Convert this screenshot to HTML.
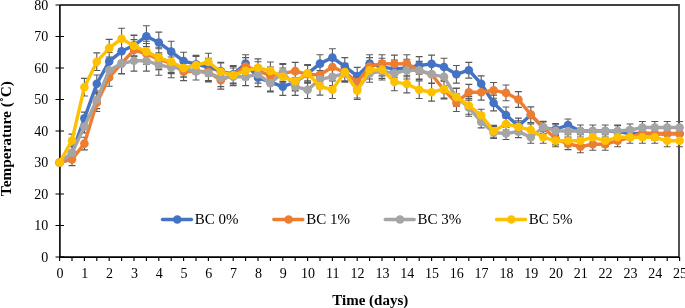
<!DOCTYPE html>
<html><head><meta charset="utf-8"><style>
html,body{margin:0;padding:0;background:#fff;width:685px;height:308px;overflow:hidden}
svg{display:block;will-change:transform}
text{font-family:"Liberation Serif",serif;fill:#000}
.tk{font-size:14px}
.lg{font-size:15px}
.ti{font-size:15px;font-weight:bold}
</style></head><body>
<svg width="685" height="308" viewBox="0 0 685 308">
<path d="M55.5 257.00H64M55.5 225.50H64M55.5 194.00H64M55.5 162.50H64M55.5 131.00H64M55.5 99.50H64M55.5 68.00H64M55.5 36.50H64M55.5 5.00H64M59.60 257V261M72.00 257V261M84.40 257V261M96.80 257V261M109.20 257V261M121.60 257V261M134.00 257V261M146.40 257V261M158.80 257V261M171.20 257V261M183.60 257V261M196.00 257V261M208.40 257V261M220.80 257V261M233.20 257V261M245.60 257V261M258.00 257V261M270.40 257V261M282.80 257V261M295.20 257V261M307.60 257V261M320.00 257V261M332.40 257V261M344.80 257V261M357.20 257V261M369.60 257V261M382.00 257V261M394.40 257V261M406.80 257V261M419.20 257V261M431.60 257V261M444.00 257V261M456.40 257V261M468.80 257V261M481.20 257V261M493.60 257V261M506.00 257V261M518.40 257V261M530.80 257V261M543.20 257V261M555.60 257V261M568.00 257V261M580.40 257V261M592.80 257V261M605.20 257V261M617.60 257V261M630.00 257V261M642.40 257V261M654.80 257V261M667.20 257V261M679.60 257V261" stroke="#000" stroke-width="1.15" fill="none"/>
<path d="M60 5 H679 V257" fill="none" stroke="#404040" stroke-width="1.8"/>
<path d="M59.9 5 V257.1 H679" fill="none" stroke="#000" stroke-width="1.6"/>
<path d="M72.00 146.75V159.35M68.55 146.75H75.45M68.55 159.35H75.45M84.40 112.10V124.70M80.95 112.10H87.85M80.95 124.70H87.85M96.80 74.93V92.57M93.35 74.93H100.25M93.35 92.57H100.25M109.20 52.56V70.20M105.75 52.56H112.65M105.75 70.20H112.65M121.60 40.91V61.70M118.15 40.91H125.05M118.15 61.70H125.05M134.00 34.93V55.71M130.55 34.93H137.45M130.55 55.71H137.45M146.40 25.79V46.58M142.95 25.79H149.85M142.95 46.58H149.85M158.80 32.09V52.88M155.35 32.09H162.25M155.35 52.88H162.25M171.20 41.22V62.01M167.75 41.22H174.65M167.75 62.01H174.65M183.60 52.25V69.89M180.15 52.25H187.05M180.15 69.89H187.05M196.00 55.40V73.04M192.55 55.40H199.45M192.55 73.04H199.45M208.40 58.24V75.88M204.95 58.24H211.85M204.95 75.88H211.85M220.80 62.33V79.97M217.35 62.33H224.25M217.35 79.97H224.25M233.20 65.48V83.12M229.75 65.48H236.65M229.75 83.12H236.65M245.60 54.77V72.41M242.15 54.77H249.05M242.15 72.41H249.05M258.00 68.95V86.59M254.55 68.95H261.45M254.55 86.59H261.45M270.40 73.36V91.00M266.95 73.36H273.85M266.95 91.00H273.85M282.80 77.77V95.41M279.35 77.77H286.25M279.35 95.41H286.25M295.20 73.36V91.00M291.75 73.36H298.65M291.75 91.00H298.65M307.60 64.85V82.49M304.15 64.85H311.05M304.15 82.49H311.05M320.00 54.77V72.41M316.55 54.77H323.45M316.55 72.41H323.45M332.40 48.79V66.43M328.95 48.79H335.85M328.95 66.43H335.85M344.80 57.61V75.25M341.35 57.61H348.25M341.35 75.25H348.25M357.20 67.37V85.01M353.75 67.37H360.65M353.75 85.01H360.65M369.60 54.77V72.41M366.15 54.77H373.05M366.15 72.41H373.05M382.00 58.24V75.88M378.55 58.24H385.45M378.55 75.88H385.45M394.40 60.12V77.76M390.95 60.12H397.85M390.95 77.76H397.85M406.80 59.18V76.82M403.35 59.18H410.25M403.35 76.82H410.25M419.20 56.66V74.30M415.75 56.66H422.65M415.75 74.30H422.65M431.60 55.09V72.72M428.15 55.09H435.05M428.15 72.72H435.05M444.00 58.24V75.88M440.55 58.24H447.45M440.55 75.88H447.45M456.40 65.48V83.12M452.95 65.48H459.85M452.95 83.12H459.85M468.80 62.33V78.08M465.35 62.33H472.25M465.35 78.08H472.25M481.20 75.88V91.62M477.75 75.88H484.65M477.75 91.62H484.65M493.60 95.09V110.84M490.15 95.09H497.05M490.15 110.84H497.05M506.00 107.06V122.81M502.55 107.06H509.45M502.55 122.81H509.45M518.40 118.09V133.83M514.95 118.09H521.85M514.95 133.83H521.85M530.80 107.06V122.81M527.35 107.06H534.25M527.35 122.81H534.25M543.20 121.87V133.83M539.75 121.87H546.65M539.75 133.83H546.65M555.60 123.44V135.41M552.15 123.44H559.05M552.15 135.41H559.05M568.00 119.03V131.00M564.55 119.03H571.45M564.55 131.00H571.45M580.40 125.02V136.99M576.95 125.02H583.85M576.95 136.99H583.85M592.80 125.02V136.99M589.35 125.02H596.25M589.35 136.99H596.25M605.20 125.02V136.99M601.75 125.02H608.65M601.75 136.99H608.65M617.60 125.65V137.62M614.15 125.65H621.05M614.15 137.62H621.05M630.00 127.53V139.50M626.55 127.53H633.45M626.55 139.50H633.45M642.40 127.53V139.50M638.95 127.53H645.85M638.95 139.50H645.85M654.80 128.17V140.13M651.35 128.17H658.25M651.35 140.13H658.25M667.20 127.85V139.82M663.75 127.85H670.65M663.75 139.82H670.65M679.60 127.85V139.82M676.15 127.85H683.05M676.15 139.82H683.05M72.00 153.05V165.65M68.55 153.05H75.45M68.55 165.65H75.45M84.40 137.30V149.90M80.95 137.30H87.85M80.95 149.90H87.85M96.80 93.83V111.47M93.35 93.83H100.25M93.35 111.47H100.25M109.20 68.63V86.27M105.75 68.63H112.65M105.75 86.27H112.65M121.60 52.88V73.67M118.15 52.88H125.05M118.15 73.67H125.05M134.00 39.65V60.44M130.55 39.65H137.45M130.55 60.44H137.45M146.40 43.43V64.22M142.95 43.43H149.85M142.95 64.22H149.85M158.80 48.79V69.58M155.35 48.79H162.25M155.35 69.58H162.25M171.20 52.88V73.67M167.75 52.88H174.65M167.75 73.67H174.65M183.60 62.96V80.60M180.15 62.96H187.05M180.15 80.60H187.05M196.00 62.33V79.97M192.55 62.33H199.45M192.55 79.97H199.45M208.40 62.96V80.60M204.95 62.96H211.85M204.95 80.60H211.85M220.80 71.47V89.10M217.35 71.47H224.25M217.35 89.10H224.25M233.20 66.11V83.75M229.75 66.11H236.65M229.75 83.75H236.65M245.60 57.61V75.25M242.15 57.61H249.05M242.15 75.25H249.05M258.00 61.70V79.34M254.55 61.70H261.45M254.55 79.34H261.45M270.40 67.06V84.69M266.95 67.06H273.85M266.95 84.69H273.85M282.80 64.54V82.18M279.35 64.54H286.25M279.35 82.18H286.25M295.20 62.33V79.97M291.75 62.33H298.65M291.75 79.97H298.65M307.60 65.48V83.12M304.15 65.48H311.05M304.15 83.12H311.05M320.00 66.11V83.75M316.55 66.11H323.45M316.55 83.75H323.45M332.40 58.24V75.88M328.95 58.24H335.85M328.95 75.88H335.85M344.80 63.59V81.23M341.35 63.59H348.25M341.35 81.23H348.25M357.20 73.36V91.00M353.75 73.36H360.65M353.75 91.00H360.65M369.60 57.61V75.25M366.15 57.61H373.05M366.15 75.25H373.05M382.00 54.77V72.41M378.55 54.77H385.45M378.55 72.41H385.45M394.40 55.09V72.72M390.95 55.09H397.85M390.95 72.72H397.85M406.80 54.77V72.41M403.35 54.77H410.25M403.35 72.41H410.25M419.20 61.70V79.34M415.75 61.70H422.65M415.75 79.34H422.65M431.60 65.48V83.12M428.15 65.48H435.05M428.15 83.12H435.05M444.00 81.23V98.87M440.55 81.23H447.45M440.55 98.87H447.45M456.40 93.83V111.47M452.95 93.83H459.85M452.95 111.47H459.85M468.80 84.38V100.13M465.35 84.38H472.25M465.35 100.13H472.25M481.20 84.38V100.13M477.75 84.38H484.65M477.75 100.13H484.65M493.60 82.49V98.24M490.15 82.49H497.05M490.15 98.24H497.05M506.00 85.01V100.76M502.55 85.01H509.45M502.55 100.76H509.45M518.40 91.62V107.38M514.95 91.62H521.85M514.95 107.38H521.85M530.80 106.75V122.50M527.35 106.75H534.25M527.35 122.50H534.25M543.20 121.23V133.20M539.75 121.23H546.65M539.75 133.20H546.65M555.60 132.89V144.86M552.15 132.89H559.05M552.15 144.86H559.05M568.00 137.62V149.58M564.55 137.62H571.45M564.55 149.58H571.45M580.40 140.77V152.74M576.95 140.77H583.85M576.95 152.74H583.85M592.80 138.25V150.22M589.35 138.25H596.25M589.35 150.22H596.25M605.20 138.25V150.22M601.75 138.25H608.65M601.75 150.22H608.65M617.60 134.78V146.75M614.15 134.78H621.05M614.15 146.75H621.05M630.00 131.31V143.28M626.55 131.31H633.45M626.55 143.28H633.45M642.40 126.91V138.88M638.95 126.91H645.85M638.95 138.88H645.85M654.80 127.53V139.50M651.35 127.53H658.25M651.35 139.50H658.25M667.20 127.53V139.50M663.75 127.53H670.65M663.75 139.50H670.65M679.60 127.53V139.50M676.15 127.53H683.05M676.15 139.50H683.05M72.00 146.75V159.35M68.55 146.75H75.45M68.55 159.35H75.45M84.40 120.29V132.89M80.95 120.29H87.85M80.95 132.89H87.85M96.80 91.00V108.63M93.35 91.00H100.25M93.35 108.63H100.25M109.20 61.39V79.03M105.75 61.39H112.65M105.75 79.03H112.65M121.60 53.19V73.99M118.15 53.19H125.05M118.15 73.99H125.05M134.00 50.36V71.15M130.55 50.36H137.45M130.55 71.15H137.45M146.40 50.36V71.15M142.95 50.36H149.85M142.95 71.15H149.85M158.80 54.46V75.25M155.35 54.46H162.25M155.35 75.25H162.25M171.20 56.97V77.76M167.75 56.97H174.65M167.75 77.76H174.65M183.60 59.50V77.13M180.15 59.50H187.05M180.15 77.13H187.05M196.00 62.33V79.97M192.55 62.33H199.45M192.55 79.97H199.45M208.40 64.22V81.86M204.95 64.22H211.85M204.95 81.86H211.85M220.80 68.95V86.59M217.35 68.95H224.25M217.35 86.59H224.25M233.20 68.00V85.64M229.75 68.00H236.65M229.75 85.64H236.65M245.60 68.00V85.64M242.15 68.00H249.05M242.15 85.64H249.05M258.00 65.48V83.12M254.55 65.48H261.45M254.55 83.12H261.45M270.40 74.30V91.94M266.95 74.30H273.85M266.95 91.94H273.85M282.80 63.59V81.23M279.35 63.59H286.25M279.35 81.23H286.25M295.20 77.77V95.41M291.75 77.77H298.65M291.75 95.41H298.65M307.60 80.92V98.55M304.15 80.92H311.05M304.15 98.55H311.05M320.00 70.52V88.16M316.55 70.52H323.45M316.55 88.16H323.45M332.40 68.00V85.64M328.95 68.00H335.85M328.95 85.64H335.85M344.80 64.54V82.18M341.35 64.54H348.25M341.35 82.18H348.25M357.20 80.29V97.93M353.75 80.29H360.65M353.75 97.93H360.65M369.60 64.54V82.18M366.15 64.54H373.05M366.15 82.18H373.05M382.00 62.33V79.97M378.55 62.33H385.45M378.55 79.97H385.45M394.40 64.54V82.18M390.95 64.54H397.85M390.95 82.18H397.85M406.80 61.39V79.03M403.35 61.39H410.25M403.35 79.03H410.25M419.20 61.39V79.03M415.75 61.39H422.65M415.75 79.03H422.65M431.60 65.48V83.12M428.15 65.48H435.05M428.15 83.12H435.05M444.00 68.00V85.64M440.55 68.00H447.45M440.55 85.64H447.45M456.40 88.47V106.11M452.95 88.47H459.85M452.95 106.11H459.85M468.80 98.56V116.19M465.35 98.56H472.25M465.35 116.19H472.25M481.20 115.88V127.85M477.75 115.88H484.65M477.75 127.85H484.65M493.60 126.59V138.56M490.15 126.59H497.05M490.15 138.56H497.05M506.00 127.53V139.50M502.55 127.53H509.45M502.55 139.50H509.45M518.40 125.65V137.62M514.95 125.65H521.85M514.95 137.62H521.85M530.80 131.31V143.28M527.35 131.31H534.25M527.35 143.28H534.25M543.20 121.23V133.20M539.75 121.23H546.65M539.75 133.20H546.65M555.60 124.70V136.67M552.15 124.70H559.05M552.15 136.67H559.05M568.00 125.02V136.99M564.55 125.02H571.45M564.55 136.99H571.45M580.40 125.02V136.99M576.95 125.02H583.85M576.95 136.99H583.85M592.80 125.02V136.99M589.35 125.02H596.25M589.35 136.99H596.25M605.20 125.02V136.99M601.75 125.02H608.65M601.75 136.99H608.65M617.60 125.02V136.99M614.15 125.02H621.05M614.15 136.99H621.05M630.00 124.07V136.04M626.55 124.07H633.45M626.55 136.04H633.45M642.40 121.55V133.52M638.95 121.55H645.85M638.95 133.52H645.85M654.80 121.55V133.52M651.35 121.55H658.25M651.35 133.52H658.25M667.20 121.55V133.52M663.75 121.55H670.65M663.75 133.52H670.65M679.60 121.55V133.52M676.15 121.55H683.05M676.15 133.52H683.05M72.00 134.15V146.75M68.55 134.15H75.45M68.55 146.75H75.45M84.40 78.40V96.03M80.95 78.40H87.85M80.95 96.03H87.85M96.80 52.88V70.52M93.35 52.88H100.25M93.35 70.52H100.25M109.20 39.34V56.97M105.75 39.34H112.65M105.75 56.97H112.65M121.60 28.31V49.10M118.15 28.31H125.05M118.15 49.10H125.05M134.00 35.56V56.34M130.55 35.56H137.45M130.55 56.34H137.45M146.40 41.22V62.01M142.95 41.22H149.85M142.95 62.01H149.85M158.80 47.21V68.00M155.35 47.21H162.25M155.35 68.00H162.25M171.20 51.62V72.41M167.75 51.62H174.65M167.75 72.41H174.65M183.60 59.18V76.82M180.15 59.18H187.05M180.15 76.82H187.05M196.00 56.35V73.99M192.55 56.35H199.45M192.55 73.99H199.45M208.40 53.19V70.84M204.95 53.19H211.85M204.95 70.84H211.85M220.80 62.96V80.60M217.35 62.96H224.25M217.35 80.60H224.25M233.20 66.43V84.06M229.75 66.43H236.65M229.75 84.06H236.65M245.60 62.02V79.66M242.15 62.02H249.05M242.15 79.66H249.05M258.00 58.87V76.50M254.55 58.87H261.45M254.55 76.50H261.45M270.40 62.02V79.66M266.95 62.02H273.85M266.95 79.66H273.85M282.80 68.00V85.64M279.35 68.00H286.25M279.35 85.64H286.25M295.20 72.41V90.05M291.75 72.41H298.65M291.75 90.05H298.65M307.60 64.54V82.18M304.15 64.54H311.05M304.15 82.18H311.05M320.00 77.45V95.09M316.55 77.45H323.45M316.55 95.09H323.45M332.40 80.92V98.55M328.95 80.92H335.85M328.95 98.55H335.85M344.80 63.28V80.91M341.35 63.28H348.25M341.35 80.91H348.25M357.20 81.86V99.50M353.75 81.86H360.65M353.75 99.50H360.65M369.60 61.39V79.03M366.15 61.39H373.05M366.15 79.03H373.05M382.00 60.76V78.40M378.55 60.76H385.45M378.55 78.40H385.45M394.40 73.04V90.68M390.95 73.04H397.85M390.95 90.68H397.85M406.80 75.25V92.88M403.35 75.25H410.25M403.35 92.88H410.25M419.20 80.92V98.55M415.75 80.92H422.65M415.75 98.55H422.65M431.60 83.44V101.08M428.15 83.44H435.05M428.15 101.08H435.05M444.00 80.29V97.93M440.55 80.29H447.45M440.55 97.93H447.45M456.40 88.16V105.80M452.95 88.16H459.85M452.95 105.80H459.85M468.80 96.67V114.30M465.35 96.67H472.25M465.35 114.30H472.25M481.20 109.27V121.23M477.75 109.27H484.65M477.75 121.23H484.65M493.60 125.33V137.30M490.15 125.33H497.05M490.15 137.30H497.05M506.00 118.09V130.06M502.55 118.09H509.45M502.55 130.06H509.45M518.40 120.92V132.89M514.95 120.92H521.85M514.95 132.89H521.85M530.80 124.07V136.04M527.35 124.07H534.25M527.35 136.04H534.25M543.20 131.31V143.28M539.75 131.31H546.65M539.75 143.28H546.65M555.60 134.78V146.75M552.15 134.78H559.05M552.15 146.75H559.05M568.00 134.78V146.75M564.55 134.78H571.45M564.55 146.75H571.45M580.40 134.78V146.75M576.95 134.78H583.85M576.95 146.75H583.85M592.80 131.31V143.28M589.35 131.31H596.25M589.35 143.28H596.25M605.20 134.78V146.75M601.75 134.78H608.65M601.75 146.75H608.65M617.60 131.31V143.28M614.15 131.31H621.05M614.15 143.28H621.05M630.00 131.31V143.28M626.55 131.31H633.45M626.55 143.28H633.45M642.40 131.31V143.28M638.95 131.31H645.85M638.95 143.28H645.85M654.80 131.31V143.28M651.35 131.31H658.25M651.35 143.28H658.25M667.20 134.78V146.75M663.75 134.78H670.65M663.75 146.75H670.65M679.60 134.78V146.75M676.15 134.78H683.05M676.15 146.75H683.05" stroke="#595959" stroke-width="1.1" fill="none"/>
<polyline points="59.60,162.50 72.00,153.05 84.40,118.40 96.80,83.75 109.20,61.38 121.60,51.31 134.00,45.32 146.40,36.19 158.80,42.49 171.20,51.62 183.60,61.07 196.00,64.22 208.40,67.06 220.80,71.15 233.20,74.30 245.60,63.59 258.00,77.77 270.40,82.18 282.80,86.59 295.20,82.18 307.60,73.67 320.00,63.59 332.40,57.61 344.80,66.43 357.20,76.19 369.60,63.59 382.00,67.06 394.40,68.94 406.80,68.00 419.20,65.48 431.60,63.91 444.00,67.06 456.40,74.30 468.80,70.21 481.20,83.75 493.60,102.97 506.00,114.94 518.40,125.96 530.80,114.94 543.20,127.85 555.60,129.43 568.00,125.02 580.40,131.00 592.80,131.00 605.20,131.00 617.60,131.63 630.00,133.52 642.40,133.52 654.80,134.15 667.20,133.83 679.60,133.83" fill="none" stroke="#4472C4" stroke-width="3.4" stroke-linejoin="round" stroke-linecap="round"/>
<g fill="#4472C4"><circle cx="59.60" cy="162.50" r="4.3"/><circle cx="72.00" cy="153.05" r="4.3"/><circle cx="84.40" cy="118.40" r="4.3"/><circle cx="96.80" cy="83.75" r="4.3"/><circle cx="109.20" cy="61.38" r="4.3"/><circle cx="121.60" cy="51.31" r="4.3"/><circle cx="134.00" cy="45.32" r="4.3"/><circle cx="146.40" cy="36.19" r="4.3"/><circle cx="158.80" cy="42.49" r="4.3"/><circle cx="171.20" cy="51.62" r="4.3"/><circle cx="183.60" cy="61.07" r="4.3"/><circle cx="196.00" cy="64.22" r="4.3"/><circle cx="208.40" cy="67.06" r="4.3"/><circle cx="220.80" cy="71.15" r="4.3"/><circle cx="233.20" cy="74.30" r="4.3"/><circle cx="245.60" cy="63.59" r="4.3"/><circle cx="258.00" cy="77.77" r="4.3"/><circle cx="270.40" cy="82.18" r="4.3"/><circle cx="282.80" cy="86.59" r="4.3"/><circle cx="295.20" cy="82.18" r="4.3"/><circle cx="307.60" cy="73.67" r="4.3"/><circle cx="320.00" cy="63.59" r="4.3"/><circle cx="332.40" cy="57.61" r="4.3"/><circle cx="344.80" cy="66.43" r="4.3"/><circle cx="357.20" cy="76.19" r="4.3"/><circle cx="369.60" cy="63.59" r="4.3"/><circle cx="382.00" cy="67.06" r="4.3"/><circle cx="394.40" cy="68.94" r="4.3"/><circle cx="406.80" cy="68.00" r="4.3"/><circle cx="419.20" cy="65.48" r="4.3"/><circle cx="431.60" cy="63.91" r="4.3"/><circle cx="444.00" cy="67.06" r="4.3"/><circle cx="456.40" cy="74.30" r="4.3"/><circle cx="468.80" cy="70.21" r="4.3"/><circle cx="481.20" cy="83.75" r="4.3"/><circle cx="493.60" cy="102.97" r="4.3"/><circle cx="506.00" cy="114.94" r="4.3"/><circle cx="518.40" cy="125.96" r="4.3"/><circle cx="530.80" cy="114.94" r="4.3"/><circle cx="543.20" cy="127.85" r="4.3"/><circle cx="555.60" cy="129.43" r="4.3"/><circle cx="568.00" cy="125.02" r="4.3"/><circle cx="580.40" cy="131.00" r="4.3"/><circle cx="592.80" cy="131.00" r="4.3"/><circle cx="605.20" cy="131.00" r="4.3"/><circle cx="617.60" cy="131.63" r="4.3"/><circle cx="630.00" cy="133.52" r="4.3"/><circle cx="642.40" cy="133.52" r="4.3"/><circle cx="654.80" cy="134.15" r="4.3"/><circle cx="667.20" cy="133.83" r="4.3"/><circle cx="679.60" cy="133.83" r="4.3"/></g>
<polyline points="59.60,162.50 72.00,159.35 84.40,143.60 96.80,102.65 109.20,77.45 121.60,63.28 134.00,50.04 146.40,53.83 158.80,59.18 171.20,63.28 183.60,71.78 196.00,71.15 208.40,71.78 220.80,80.28 233.20,74.93 245.60,66.43 258.00,70.52 270.40,75.88 282.80,73.36 295.20,71.15 307.60,74.30 320.00,74.93 332.40,67.06 344.80,72.41 357.20,82.18 369.60,66.43 382.00,63.59 394.40,63.91 406.80,63.59 419.20,70.52 431.60,74.30 444.00,90.05 456.40,102.65 468.80,92.26 481.20,92.26 493.60,90.37 506.00,92.88 518.40,99.50 530.80,114.62 543.20,127.22 555.60,138.88 568.00,143.60 580.40,146.75 592.80,144.23 605.20,144.23 617.60,140.77 630.00,137.30 642.40,132.89 654.80,133.52 667.20,133.52 679.60,133.52" fill="none" stroke="#ED7D31" stroke-width="3.4" stroke-linejoin="round" stroke-linecap="round"/>
<g fill="#ED7D31"><circle cx="59.60" cy="162.50" r="4.3"/><circle cx="72.00" cy="159.35" r="4.3"/><circle cx="84.40" cy="143.60" r="4.3"/><circle cx="96.80" cy="102.65" r="4.3"/><circle cx="109.20" cy="77.45" r="4.3"/><circle cx="121.60" cy="63.28" r="4.3"/><circle cx="134.00" cy="50.04" r="4.3"/><circle cx="146.40" cy="53.83" r="4.3"/><circle cx="158.80" cy="59.18" r="4.3"/><circle cx="171.20" cy="63.28" r="4.3"/><circle cx="183.60" cy="71.78" r="4.3"/><circle cx="196.00" cy="71.15" r="4.3"/><circle cx="208.40" cy="71.78" r="4.3"/><circle cx="220.80" cy="80.28" r="4.3"/><circle cx="233.20" cy="74.93" r="4.3"/><circle cx="245.60" cy="66.43" r="4.3"/><circle cx="258.00" cy="70.52" r="4.3"/><circle cx="270.40" cy="75.88" r="4.3"/><circle cx="282.80" cy="73.36" r="4.3"/><circle cx="295.20" cy="71.15" r="4.3"/><circle cx="307.60" cy="74.30" r="4.3"/><circle cx="320.00" cy="74.93" r="4.3"/><circle cx="332.40" cy="67.06" r="4.3"/><circle cx="344.80" cy="72.41" r="4.3"/><circle cx="357.20" cy="82.18" r="4.3"/><circle cx="369.60" cy="66.43" r="4.3"/><circle cx="382.00" cy="63.59" r="4.3"/><circle cx="394.40" cy="63.91" r="4.3"/><circle cx="406.80" cy="63.59" r="4.3"/><circle cx="419.20" cy="70.52" r="4.3"/><circle cx="431.60" cy="74.30" r="4.3"/><circle cx="444.00" cy="90.05" r="4.3"/><circle cx="456.40" cy="102.65" r="4.3"/><circle cx="468.80" cy="92.26" r="4.3"/><circle cx="481.20" cy="92.26" r="4.3"/><circle cx="493.60" cy="90.37" r="4.3"/><circle cx="506.00" cy="92.88" r="4.3"/><circle cx="518.40" cy="99.50" r="4.3"/><circle cx="530.80" cy="114.62" r="4.3"/><circle cx="543.20" cy="127.22" r="4.3"/><circle cx="555.60" cy="138.88" r="4.3"/><circle cx="568.00" cy="143.60" r="4.3"/><circle cx="580.40" cy="146.75" r="4.3"/><circle cx="592.80" cy="144.23" r="4.3"/><circle cx="605.20" cy="144.23" r="4.3"/><circle cx="617.60" cy="140.77" r="4.3"/><circle cx="630.00" cy="137.30" r="4.3"/><circle cx="642.40" cy="132.89" r="4.3"/><circle cx="654.80" cy="133.52" r="4.3"/><circle cx="667.20" cy="133.52" r="4.3"/><circle cx="679.60" cy="133.52" r="4.3"/></g>
<polyline points="59.60,162.50 72.00,153.05 84.40,126.59 96.80,99.81 109.20,70.21 121.60,63.59 134.00,60.76 146.40,60.76 158.80,64.85 171.20,67.37 183.60,68.31 196.00,71.15 208.40,73.04 220.80,77.77 233.20,76.82 245.60,76.82 258.00,74.30 270.40,83.12 282.80,72.41 295.20,86.59 307.60,89.74 320.00,79.34 332.40,76.82 344.80,73.36 357.20,89.11 369.60,73.36 382.00,71.15 394.40,73.36 406.80,70.21 419.20,70.21 431.60,74.30 444.00,76.82 456.40,97.29 468.80,107.38 481.20,121.87 493.60,132.57 506.00,133.52 518.40,131.63 530.80,137.30 543.20,127.22 555.60,130.69 568.00,131.00 580.40,131.00 592.80,131.00 605.20,131.00 617.60,131.00 630.00,130.06 642.40,127.53 654.80,127.53 667.20,127.53 679.60,127.53" fill="none" stroke="#A5A5A5" stroke-width="3.4" stroke-linejoin="round" stroke-linecap="round"/>
<g fill="#A5A5A5"><circle cx="59.60" cy="162.50" r="4.3"/><circle cx="72.00" cy="153.05" r="4.3"/><circle cx="84.40" cy="126.59" r="4.3"/><circle cx="96.80" cy="99.81" r="4.3"/><circle cx="109.20" cy="70.21" r="4.3"/><circle cx="121.60" cy="63.59" r="4.3"/><circle cx="134.00" cy="60.76" r="4.3"/><circle cx="146.40" cy="60.76" r="4.3"/><circle cx="158.80" cy="64.85" r="4.3"/><circle cx="171.20" cy="67.37" r="4.3"/><circle cx="183.60" cy="68.31" r="4.3"/><circle cx="196.00" cy="71.15" r="4.3"/><circle cx="208.40" cy="73.04" r="4.3"/><circle cx="220.80" cy="77.77" r="4.3"/><circle cx="233.20" cy="76.82" r="4.3"/><circle cx="245.60" cy="76.82" r="4.3"/><circle cx="258.00" cy="74.30" r="4.3"/><circle cx="270.40" cy="83.12" r="4.3"/><circle cx="282.80" cy="72.41" r="4.3"/><circle cx="295.20" cy="86.59" r="4.3"/><circle cx="307.60" cy="89.74" r="4.3"/><circle cx="320.00" cy="79.34" r="4.3"/><circle cx="332.40" cy="76.82" r="4.3"/><circle cx="344.80" cy="73.36" r="4.3"/><circle cx="357.20" cy="89.11" r="4.3"/><circle cx="369.60" cy="73.36" r="4.3"/><circle cx="382.00" cy="71.15" r="4.3"/><circle cx="394.40" cy="73.36" r="4.3"/><circle cx="406.80" cy="70.21" r="4.3"/><circle cx="419.20" cy="70.21" r="4.3"/><circle cx="431.60" cy="74.30" r="4.3"/><circle cx="444.00" cy="76.82" r="4.3"/><circle cx="456.40" cy="97.29" r="4.3"/><circle cx="468.80" cy="107.38" r="4.3"/><circle cx="481.20" cy="121.87" r="4.3"/><circle cx="493.60" cy="132.57" r="4.3"/><circle cx="506.00" cy="133.52" r="4.3"/><circle cx="518.40" cy="131.63" r="4.3"/><circle cx="530.80" cy="137.30" r="4.3"/><circle cx="543.20" cy="127.22" r="4.3"/><circle cx="555.60" cy="130.69" r="4.3"/><circle cx="568.00" cy="131.00" r="4.3"/><circle cx="580.40" cy="131.00" r="4.3"/><circle cx="592.80" cy="131.00" r="4.3"/><circle cx="605.20" cy="131.00" r="4.3"/><circle cx="617.60" cy="131.00" r="4.3"/><circle cx="630.00" cy="130.06" r="4.3"/><circle cx="642.40" cy="127.53" r="4.3"/><circle cx="654.80" cy="127.53" r="4.3"/><circle cx="667.20" cy="127.53" r="4.3"/><circle cx="679.60" cy="127.53" r="4.3"/></g>
<polyline points="59.60,162.50 72.00,140.45 84.40,87.22 96.80,61.70 109.20,48.16 121.60,38.71 134.00,45.95 146.40,51.62 158.80,57.61 171.20,62.02 183.60,68.00 196.00,65.17 208.40,62.02 220.80,71.78 233.20,75.25 245.60,70.84 258.00,67.69 270.40,70.84 282.80,76.82 295.20,81.23 307.60,73.36 320.00,86.27 332.40,89.74 344.80,72.09 357.20,90.68 369.60,70.21 382.00,69.58 394.40,81.86 406.80,84.06 419.20,89.74 431.60,92.26 444.00,89.11 456.40,96.98 468.80,105.49 481.20,115.25 493.60,131.31 506.00,124.07 518.40,126.91 530.80,130.06 543.20,137.30 555.60,140.77 568.00,140.77 580.40,140.77 592.80,137.30 605.20,140.77 617.60,137.30 630.00,137.30 642.40,137.30 654.80,137.30 667.20,140.77 679.60,140.77" fill="none" stroke="#FFC000" stroke-width="3.4" stroke-linejoin="round" stroke-linecap="round"/>
<g fill="#FFC000"><circle cx="59.60" cy="162.50" r="4.3"/><circle cx="72.00" cy="140.45" r="4.3"/><circle cx="84.40" cy="87.22" r="4.3"/><circle cx="96.80" cy="61.70" r="4.3"/><circle cx="109.20" cy="48.16" r="4.3"/><circle cx="121.60" cy="38.71" r="4.3"/><circle cx="134.00" cy="45.95" r="4.3"/><circle cx="146.40" cy="51.62" r="4.3"/><circle cx="158.80" cy="57.61" r="4.3"/><circle cx="171.20" cy="62.02" r="4.3"/><circle cx="183.60" cy="68.00" r="4.3"/><circle cx="196.00" cy="65.17" r="4.3"/><circle cx="208.40" cy="62.02" r="4.3"/><circle cx="220.80" cy="71.78" r="4.3"/><circle cx="233.20" cy="75.25" r="4.3"/><circle cx="245.60" cy="70.84" r="4.3"/><circle cx="258.00" cy="67.69" r="4.3"/><circle cx="270.40" cy="70.84" r="4.3"/><circle cx="282.80" cy="76.82" r="4.3"/><circle cx="295.20" cy="81.23" r="4.3"/><circle cx="307.60" cy="73.36" r="4.3"/><circle cx="320.00" cy="86.27" r="4.3"/><circle cx="332.40" cy="89.74" r="4.3"/><circle cx="344.80" cy="72.09" r="4.3"/><circle cx="357.20" cy="90.68" r="4.3"/><circle cx="369.60" cy="70.21" r="4.3"/><circle cx="382.00" cy="69.58" r="4.3"/><circle cx="394.40" cy="81.86" r="4.3"/><circle cx="406.80" cy="84.06" r="4.3"/><circle cx="419.20" cy="89.74" r="4.3"/><circle cx="431.60" cy="92.26" r="4.3"/><circle cx="444.00" cy="89.11" r="4.3"/><circle cx="456.40" cy="96.98" r="4.3"/><circle cx="468.80" cy="105.49" r="4.3"/><circle cx="481.20" cy="115.25" r="4.3"/><circle cx="493.60" cy="131.31" r="4.3"/><circle cx="506.00" cy="124.07" r="4.3"/><circle cx="518.40" cy="126.91" r="4.3"/><circle cx="530.80" cy="130.06" r="4.3"/><circle cx="543.20" cy="137.30" r="4.3"/><circle cx="555.60" cy="140.77" r="4.3"/><circle cx="568.00" cy="140.77" r="4.3"/><circle cx="580.40" cy="140.77" r="4.3"/><circle cx="592.80" cy="137.30" r="4.3"/><circle cx="605.20" cy="140.77" r="4.3"/><circle cx="617.60" cy="137.30" r="4.3"/><circle cx="630.00" cy="137.30" r="4.3"/><circle cx="642.40" cy="137.30" r="4.3"/><circle cx="654.80" cy="137.30" r="4.3"/><circle cx="667.20" cy="140.77" r="4.3"/><circle cx="679.60" cy="140.77" r="4.3"/></g>
<line x1="162.5" y1="219.5" x2="191.5" y2="219.5" stroke="#4472C4" stroke-width="3.4" stroke-linecap="round"/><circle cx="177.3" cy="219.5" r="4.3" fill="#4472C4"/><text x="194.80" y="223.9" class="lg">BC 0%</text><line x1="273.85" y1="219.5" x2="302.85" y2="219.5" stroke="#ED7D31" stroke-width="3.4" stroke-linecap="round"/><circle cx="288.65000000000003" cy="219.5" r="4.3" fill="#ED7D31"/><text x="306.15" y="223.9" class="lg">BC 1%</text><line x1="385.2" y1="219.5" x2="414.2" y2="219.5" stroke="#A5A5A5" stroke-width="3.4" stroke-linecap="round"/><circle cx="400.0" cy="219.5" r="4.3" fill="#A5A5A5"/><text x="417.50" y="223.9" class="lg">BC 3%</text><line x1="496.54999999999995" y1="219.5" x2="525.55" y2="219.5" stroke="#FFC000" stroke-width="3.4" stroke-linecap="round"/><circle cx="511.34999999999997" cy="219.5" r="4.3" fill="#FFC000"/><text x="528.85" y="223.9" class="lg">BC 5%</text>
<text x="48.3" y="261.80" text-anchor="end" class="tk">0</text><text x="48.3" y="230.30" text-anchor="end" class="tk">10</text><text x="48.3" y="198.80" text-anchor="end" class="tk">20</text><text x="48.3" y="167.30" text-anchor="end" class="tk">30</text><text x="48.3" y="135.80" text-anchor="end" class="tk">40</text><text x="48.3" y="104.30" text-anchor="end" class="tk">50</text><text x="48.3" y="72.80" text-anchor="end" class="tk">60</text><text x="48.3" y="41.30" text-anchor="end" class="tk">70</text><text x="48.3" y="9.80" text-anchor="end" class="tk">80</text><text x="60.00" y="278.2" text-anchor="middle" class="tk">0</text><text x="84.80" y="278.2" text-anchor="middle" class="tk">1</text><text x="109.60" y="278.2" text-anchor="middle" class="tk">2</text><text x="134.40" y="278.2" text-anchor="middle" class="tk">3</text><text x="159.20" y="278.2" text-anchor="middle" class="tk">4</text><text x="184.00" y="278.2" text-anchor="middle" class="tk">5</text><text x="208.80" y="278.2" text-anchor="middle" class="tk">6</text><text x="233.60" y="278.2" text-anchor="middle" class="tk">7</text><text x="258.40" y="278.2" text-anchor="middle" class="tk">8</text><text x="283.20" y="278.2" text-anchor="middle" class="tk">9</text><text x="308.00" y="278.2" text-anchor="middle" class="tk">10</text><text x="332.80" y="278.2" text-anchor="middle" class="tk">11</text><text x="357.60" y="278.2" text-anchor="middle" class="tk">12</text><text x="382.40" y="278.2" text-anchor="middle" class="tk">13</text><text x="407.20" y="278.2" text-anchor="middle" class="tk">14</text><text x="432.00" y="278.2" text-anchor="middle" class="tk">15</text><text x="456.80" y="278.2" text-anchor="middle" class="tk">16</text><text x="481.60" y="278.2" text-anchor="middle" class="tk">17</text><text x="506.40" y="278.2" text-anchor="middle" class="tk">18</text><text x="531.20" y="278.2" text-anchor="middle" class="tk">19</text><text x="556.00" y="278.2" text-anchor="middle" class="tk">20</text><text x="580.80" y="278.2" text-anchor="middle" class="tk">21</text><text x="605.60" y="278.2" text-anchor="middle" class="tk">22</text><text x="630.40" y="278.2" text-anchor="middle" class="tk">23</text><text x="655.20" y="278.2" text-anchor="middle" class="tk">24</text><text x="680.00" y="278.2" text-anchor="middle" class="tk">25</text>
<text x="370.3" y="304.5" text-anchor="middle" class="ti">Time (days)</text>
<text transform="translate(11.0 138.6) rotate(-90)" x="0" y="0" text-anchor="middle" class="ti" style="font-size:15.3px">Temperature (&#730;C)</text>
</svg>
</body></html>
